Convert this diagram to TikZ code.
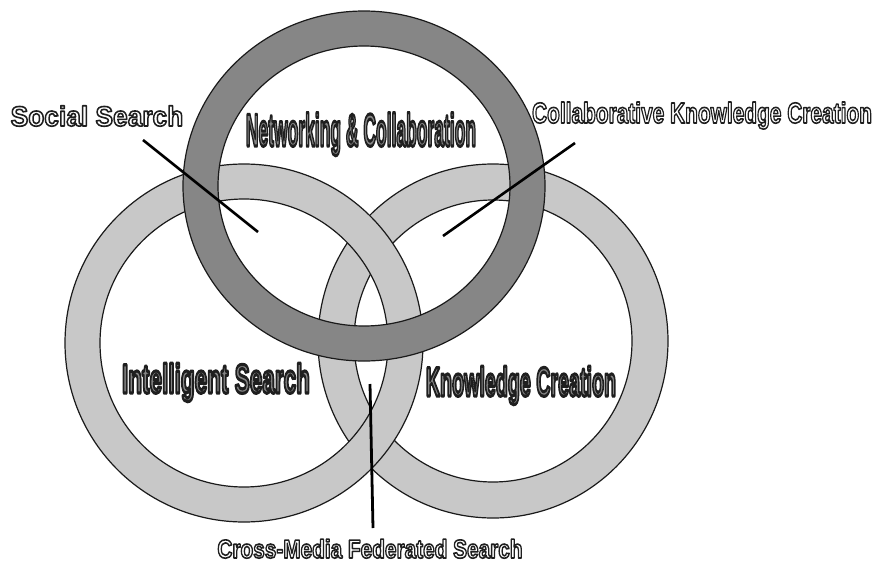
\documentclass[tikz,border=0pt]{standalone}
\usepackage{fontspec}
\setmainfont{Liberation Sans}
\usepackage{graphicx}
\definecolor{darkring}{HTML}{868686}
\definecolor{lightring}{HTML}{C8C8C8}
\definecolor{ringedge}{HTML}{1A1A1A}
\definecolor{innertxt}{HTML}{858585}
% outlined text: fill in current colour, stroke in dark grey
\newcommand{\strokedtext}[2]{\special{pdf:literal direct q 2 Tr #1 w 0.12 G 1 j}#2\special{pdf:literal direct Q}}
\newcommand{\outerlabel}[3]{{\fontsize{#1}{#1}\selectfont\bfseries\color{white}\scalebox{#2}[1]{\strokedtext{1.6}{#3}}}}
\newcommand{\innerlabel}[3]{{\fontsize{#1}{#1}\selectfont\bfseries\color{innertxt}\scalebox{#2}[1]{\strokedtext{3.2}{#3}}}}
\begin{document}
\begin{tikzpicture}[x=1pt,y=-1pt,
  ring/.style={draw=ringedge,line width=1.2pt,even odd rule},
  connector/.style={draw=black,line width=2.6pt},
  lbl/.style={anchor=base,inner sep=0pt,outer sep=0pt}]
\useasboundingbox[fill=white] (0,0) rectangle (875,565);
% rings: right, left, top
\path[ring,fill=lightring] (493,341) ellipse [x radius=175,y radius=177]
                           (493,341) ellipse [x radius=139,y radius=141];
\path[ring,fill=lightring] (244,343) ellipse [x radius=179,y radius=179]
                           (244,343) ellipse [x radius=144,y radius=144];
\path[ring,fill=darkring] (364,186) ellipse [x radius=181,y radius=175]
                          (364,186) ellipse [x radius=146,y radius=140];
% inner labels
\node[lbl] (net) at (361,146) {\innerlabel{46}{0.38}{Networking \& Collaboration}};
\node[lbl] (intel) at (216,393) {\innerlabel{41}{0.55}{Intelligent Search}};
\node[lbl] (know) at (521,396) {\innerlabel{41}{0.48}{Knowledge Creation}};
% outer labels
\node[lbl] (social) at (97,126) {\outerlabel{28}{0.94}{Social Search}};
\node[lbl] (collab) at (702,123) {\outerlabel{29}{0.72}{Collaborative Knowledge Creation}};
\node[lbl] (cross) at (370,558) {\outerlabel{26}{0.8}{Cross-Media Federated Search}};
% connectors
\coordinate (s1) at (143,140);
\coordinate (s2) at (258,232);
\coordinate (c1) at (575,143);
\coordinate (c2) at (443,236);
\coordinate (m1) at (370,384);
\coordinate (m2) at (373,528);
\draw[connector] (s1) -- (s2);
\draw[connector] (c1) -- (c2);
\draw[connector,line width=2.8pt] (m1) -- (m2);
\end{tikzpicture}
\end{document}
